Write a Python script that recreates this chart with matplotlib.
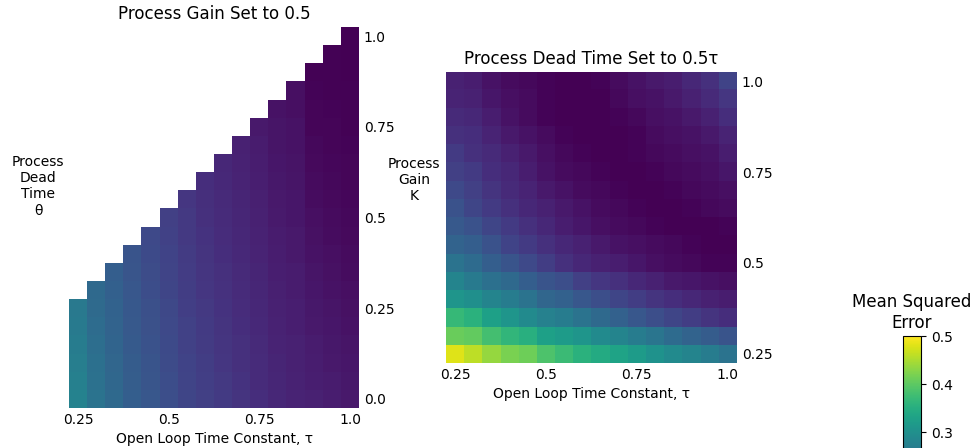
import numpy as np
import matplotlib.pyplot as plt

# parameter grids
tau = [0.25, 0.3, 0.35, 0.4, 0.45, 0.5, 0.55, 0.6, 0.65, 0.7, 0.75, 0.8, 0.85, 0.9, 0.95, 1.0]
theta = [0.0, 0.05, 0.1, 0.15, 0.2, 0.25, 0.3, 0.35, 0.4, 0.45, 0.5,
         0.55, 0.6, 0.65, 0.7, 0.75, 0.8, 0.85, 0.9, 0.95, 1.0]
gain = [0.25, 0.3, 0.35, 0.4, 0.45, 0.5, 0.55, 0.6, 0.65, 0.7, 0.75, 0.8, 0.85, 0.9, 0.95, 1.0]

tau_ticks = ['0.25', '0.5', '0.75', '1.0']
theta_ticks = ['0.0', '0.25', '0.5', '0.75', '1.0']
gain_ticks = ['0.25', '0.5', '0.75', '1.0']
cbar_ticks = [0.3, 0.4, 0.5]

# MSE with K = 0.5: one list per tau, theta running from 0 up to tau
mse_k_half = [
    [0.277, 0.274, 0.271, 0.268, 0.265, 0.262],
    [0.252, 0.250, 0.247, 0.245, 0.242, 0.239, 0.236],
    [0.236, 0.234, 0.232, 0.229, 0.227, 0.225, 0.222, 0.220],
    [0.220, 0.218, 0.216, 0.214, 0.212, 0.210, 0.208, 0.206, 0.204],
    [0.208, 0.206, 0.204, 0.201, 0.199, 0.197, 0.195, 0.193, 0.190, 0.188],
    [0.196, 0.194, 0.192, 0.190, 0.188, 0.186, 0.184, 0.182, 0.180, 0.178, 0.176],
    [0.184, 0.182, 0.180, 0.178, 0.177, 0.175, 0.173, 0.171, 0.169, 0.167, 0.166, 0.164],
    [0.176, 0.174, 0.172, 0.170, 0.168, 0.166, 0.164, 0.162, 0.160, 0.158, 0.156, 0.154, 0.152],
    [0.168, 0.166, 0.164, 0.162, 0.160, 0.158, 0.157, 0.155, 0.153, 0.151, 0.149, 0.148, 0.146, 0.144],
    [0.160, 0.158, 0.156, 0.155, 0.153, 0.151, 0.150, 0.148, 0.146, 0.145, 0.143, 0.141, 0.140, 0.138,
     0.136],
    [0.152, 0.150, 0.149, 0.147, 0.146, 0.144, 0.143, 0.141, 0.140, 0.138, 0.137, 0.135, 0.134, 0.132,
     0.130, 0.128],
    [0.144, 0.143, 0.141, 0.140, 0.138, 0.137, 0.135, 0.134, 0.132, 0.131, 0.129, 0.128, 0.126, 0.125,
     0.123, 0.122, 0.120],
    [0.140, 0.139, 0.137, 0.136, 0.134, 0.133, 0.131, 0.130, 0.128, 0.127, 0.125, 0.124, 0.122, 0.121,
     0.120, 0.119, 0.117, 0.116],
    [0.136, 0.134, 0.132, 0.130, 0.128, 0.126, 0.124, 0.122, 0.120, 0.118, 0.116, 0.114, 0.112, 0.110,
     0.108, 0.106, 0.105, 0.104, 0.103],
    [0.132, 0.130, 0.128, 0.126, 0.124, 0.122, 0.120, 0.118, 0.116, 0.114, 0.112, 0.110, 0.108, 0.107,
     0.106, 0.105, 0.104, 0.103, 0.102, 0.102],
    [0.128, 0.126, 0.124, 0.122, 0.120, 0.118, 0.116, 0.114, 0.112, 0.110, 0.108, 0.107, 0.106, 0.105,
     0.104, 0.103, 0.102, 0.102, 0.101, 0.101, 0.101],
]

# MSE with theta = 0.5 tau: rows K = 0.25 .. 1.0, columns tau = 0.25 .. 1.0
mse_theta_half = [
    [0.480, 0.460, 0.436, 0.420, 0.412, 0.388, 0.372, 0.356, 0.344, 0.332, 0.320, 0.304, 0.292, 0.280, 0.268, 0.252],
    [0.408, 0.404, 0.380, 0.364, 0.352, 0.328, 0.320, 0.308, 0.292, 0.280, 0.268, 0.256, 0.240, 0.228, 0.216, 0.204],
    [0.368, 0.356, 0.328, 0.308, 0.292, 0.276, 0.268, 0.252, 0.236, 0.224, 0.208, 0.196, 0.184, 0.172, 0.160, 0.152],
    [0.308, 0.300, 0.280, 0.268, 0.252, 0.232, 0.224, 0.208, 0.196, 0.184, 0.172, 0.160, 0.152, 0.144, 0.136, 0.132],
    [0.280, 0.264, 0.248, 0.236, 0.220, 0.204, 0.196, 0.176, 0.164, 0.156, 0.144, 0.136, 0.128, 0.124, 0.120, 0.116],
    [0.252, 0.240, 0.220, 0.204, 0.188, 0.172, 0.156, 0.144, 0.136, 0.132, 0.124, 0.116, 0.112, 0.108, 0.104, 0.104],
    [0.228, 0.220, 0.200, 0.180, 0.168, 0.156, 0.144, 0.136, 0.128, 0.120, 0.116, 0.112, 0.108, 0.104, 0.100, 0.100],
    [0.212, 0.200, 0.184, 0.168, 0.156, 0.144, 0.132, 0.124, 0.116, 0.112, 0.108, 0.104, 0.100, 0.100, 0.100, 0.104],
    [0.200, 0.184, 0.168, 0.156, 0.144, 0.136, 0.128, 0.120, 0.112, 0.108, 0.104, 0.100, 0.100, 0.104, 0.108, 0.112],
    [0.188, 0.176, 0.160, 0.148, 0.140, 0.128, 0.120, 0.112, 0.108, 0.104, 0.100, 0.100, 0.104, 0.108, 0.112, 0.116],
    [0.176, 0.168, 0.152, 0.144, 0.132, 0.120, 0.112, 0.108, 0.104, 0.100, 0.100, 0.104, 0.108, 0.112, 0.116, 0.124],
    [0.168, 0.156, 0.148, 0.136, 0.128, 0.116, 0.108, 0.104, 0.100, 0.100, 0.104, 0.108, 0.112, 0.116, 0.120, 0.132],
    [0.156, 0.152, 0.140, 0.128, 0.120, 0.112, 0.104, 0.100, 0.100, 0.100, 0.104, 0.112, 0.116, 0.120, 0.128, 0.140],
    [0.148, 0.144, 0.132, 0.120, 0.112, 0.104, 0.100, 0.100, 0.100, 0.104, 0.108, 0.116, 0.120, 0.128, 0.136, 0.152],
    [0.140, 0.136, 0.124, 0.116, 0.112, 0.104, 0.100, 0.100, 0.100, 0.108, 0.116, 0.120, 0.128, 0.136, 0.148, 0.164],
    [0.136, 0.132, 0.120, 0.112, 0.108, 0.104, 0.100, 0.100, 0.104, 0.112, 0.120, 0.128, 0.132, 0.144, 0.156, 0.180],
]

vmin, vmax = 0.1, 0.5

# left grid is only defined where theta <= tau
grid_k = np.full((len(theta), len(tau)), np.nan)
for j, col in enumerate(mse_k_half):
    grid_k[:len(col), j] = col
grid_theta = np.array(mse_theta_half)

fig = plt.figure(figsize=(9.78, 4.48), dpi=100)
ax1 = fig.add_axes([0.0706, 0.0893, 0.2965, 0.8504])
ax2 = fig.add_axes([0.4560, 0.1897, 0.2975, 0.6496])
# colorbar runs down past the bottom edge of the figure
cax = fig.add_axes([0.9233, -0.1786, 0.0184, 0.4286])


def tick_idx(vals, labels):
    return [vals.index(float(s)) for s in labels]


im = ax1.imshow(np.ma.masked_invalid(grid_k), cmap='viridis', vmin=vmin, vmax=vmax,
                origin='lower', aspect='auto', interpolation='nearest')
ax1.set_xticks(tick_idx(tau, tau_ticks), tau_ticks)
ax1.set_yticks(tick_idx(theta, theta_ticks), theta_ticks)
ax1.set_title('Process Gain Set to 0.5', fontsize=12)
ax1.set_xlabel('Open Loop Time Constant, τ', fontsize=10)
ax1.set_ylabel('Process\nDead\nTime\nθ', rotation=0, fontsize=10)
ax1.yaxis.set_label_coords(-0.107, 0.5)

ax2.imshow(grid_theta, cmap='viridis', vmin=vmin, vmax=vmax,
           origin='lower', aspect='auto', interpolation='nearest')
ax2.set_xticks(tick_idx(tau, tau_ticks), tau_ticks)
ax2.set_yticks(tick_idx(gain, gain_ticks), gain_ticks)
ax2.set_title('Process Dead Time Set to 0.5τ', fontsize=12)
ax2.set_xlabel('Open Loop Time Constant, τ', fontsize=10)
ax2.set_ylabel('Process\nGain\nK', rotation=0, fontsize=10)
ax2.yaxis.set_label_coords(-0.11, 0.55)

for ax in (ax1, ax2):
    ax.yaxis.tick_right()
    ax.tick_params(length=0, labelsize=10)
    for sp in ax.spines.values():
        sp.set_visible(False)

cb = fig.colorbar(im, cax=cax)
cb.set_ticks(cbar_ticks)
cb.ax.tick_params(labelsize=10)
cb.ax.set_title('Mean Squared\nError', fontsize=12)

fig.savefig('out.png', dpi=100)
